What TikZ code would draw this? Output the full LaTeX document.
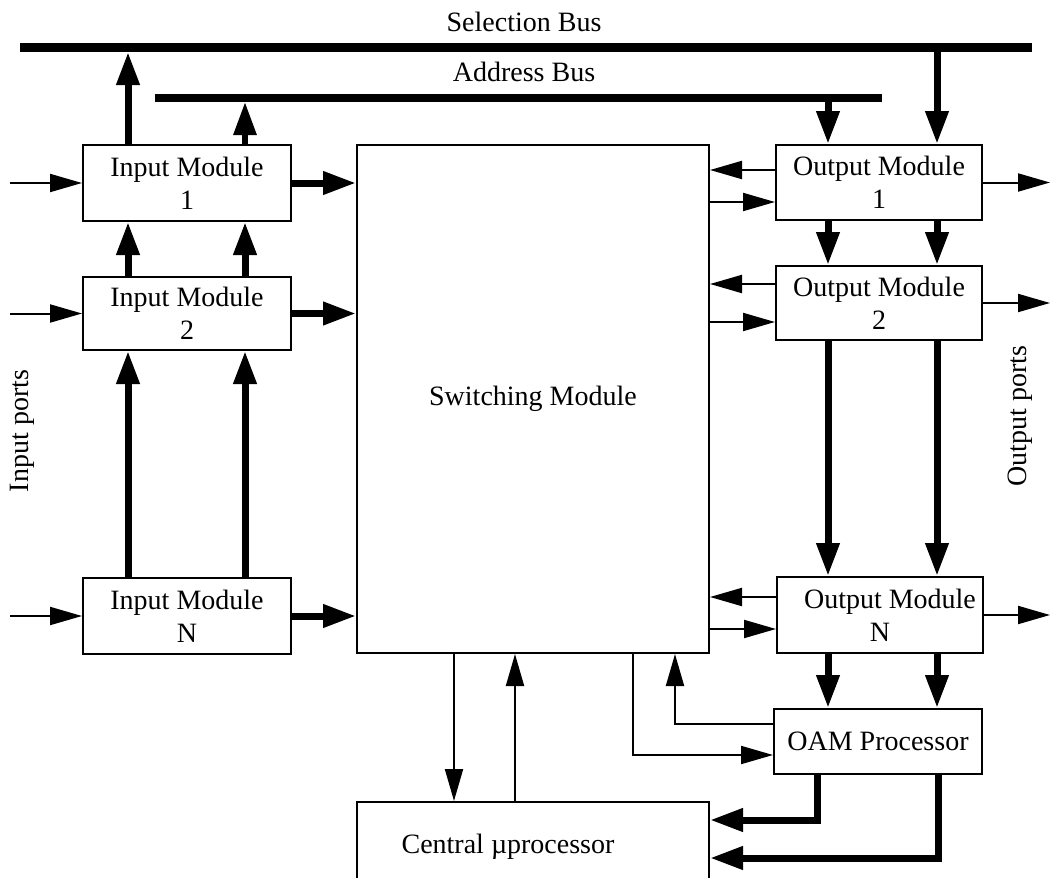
\documentclass[tikz,border=0pt]{standalone}
\usepackage{fontspec}
\setmainfont{Liberation Serif}
\usetikzlibrary{arrows.meta}
\begin{document}
\begin{tikzpicture}[x=0.5pt,y=-0.5pt,
  every node/.style={font=\fontsize{14}{16.5}\selectfont, inner sep=0pt},
  block/.style={draw, line width=1pt, align=center},
  thin arrow/.style={line width=1pt, -{Triangle[length=16pt,width=9pt]}},
  thick arrow/.style={line width=3.5pt, -{Triangle[length=16.5pt,width=11pt]}},
  bus/.style={line width=4.5pt},
]
\useasboundingbox (0,0) rectangle (1051,878);
\clip (0,0) rectangle (1051,878);

% guide coordinates for columns and rows
\coordinate (colA) at (128,0);
\coordinate (colB) at (245,0);
\coordinate (colC) at (828,0);
\coordinate (colD) at (937,0);
\coordinate (inL) at (10,0);
\coordinate (outR) at (1050,0);
\coordinate (r1a) at (0,170);
\coordinate (r1b) at (0,202);
\coordinate (r2a) at (0,284);
\coordinate (r2b) at (0,322);
\coordinate (rNa) at (0,597);
\coordinate (rNb) at (0,629);
\coordinate (cDown) at (454,0);
\coordinate (cUp) at (515,0);
\coordinate (cOut) at (633,0);
\coordinate (cIn) at (675,0);
\coordinate (rOamIn) at (0,724);
\coordinate (rOamOut) at (0,755);
\coordinate (cP1) at (817,0);
\coordinate (cP2) at (938,0);
\coordinate (rP1) at (0,820);
\coordinate (rP2) at (0,858);

% buses
\coordinate (selL) at (20,47.5);
\coordinate (selR) at (1032,47.5);
\coordinate (adrL) at (155,98);
\coordinate (adrR) at (882,98);
\draw[bus] (selL) -- (selR);
\draw[line width=4pt] (adrL) -- (adrR);
\node (selLabel) at (524,22) {Selection Bus};
\node (adrLabel) at (524,72) {Address Bus};

% blocks
\node[block, minimum width=104pt, minimum height=38pt] (im1) at (187,183) {Input Module\\1};
\node[block, minimum width=104pt, minimum height=36.5pt] (im2) at (187,313.5) {Input Module\\2};
\node[block, minimum width=104pt, minimum height=38pt] (imN) at (187,616) {Input Module\\N};
\node[block, minimum width=176pt, minimum height=254pt] (sm) at (533,399) {Switching Module};
\node[block, minimum width=103pt, minimum height=37.5pt] (om1) at (879,182.5) {Output Module\\1};
\node[block, minimum width=103pt, minimum height=37pt] (om2) at (879,303) {Output Module\\2};
\node[block, minimum width=103pt, minimum height=38pt] (omN) at (880,615) {\hspace*{10pt}Output Module\\N};
\node[block, minimum width=104pt, minimum height=32.5pt] (oam) at (878,741.5) {OAM Processor};
\node[block, minimum width=176pt, minimum height=59pt] (cp) at (533,861) {};
\node (cpLabel) at (508,847) {Central µprocessor};

\node[rotate=90] (inPorts) at (22,431) {Input ports};
\node[rotate=90] (outPorts) at (1020,416) {Output ports};

% input side
\draw[thin arrow] (im1.west -| inL) -- (im1.west);
\draw[thin arrow] (im2.west -| inL) -- (im2.west);
\draw[thin arrow] (imN.west -| inL) -- (imN.west);
\draw[thick arrow] (im1.east) -- (im1.east -| sm.west);
\draw[thick arrow] (im2.east) -- (im2.east -| sm.west);
\draw[thick arrow] (imN.east) -- (imN.east -| sm.west);
\draw[thick arrow] (imN.north -| colA) -- (im2.south -| colA);
\draw[thick arrow] (imN.north -| colB) -- (im2.south -| colB);
\draw[thick arrow] (im2.north -| colA) -- (im1.south -| colA);
\draw[thick arrow] (im2.north -| colB) -- (im1.south -| colB);
\draw[thick arrow, shorten >=2.25pt] (im1.north -| colA) -- (selL -| colA);
\draw[thick arrow, shorten >=2pt, line width=3pt] (im1.north -| colB) -- (adrL -| colB);

% output side
\draw[thick arrow] (adrL -| colC) -- (om1.north -| colC);
\draw[thick arrow] (selL -| colD) -- (om1.north -| colD);
\draw[thick arrow] (om1.south -| colC) -- (om2.north -| colC);
\draw[thick arrow] (om1.south -| colD) -- (om2.north -| colD);
\draw[thick arrow] (om2.south -| colC) -- (omN.north -| colC);
\draw[thick arrow] (om2.south -| colD) -- (omN.north -| colD);
\draw[thick arrow] (omN.south -| colC) -- (oam.north -| colC);
\draw[thick arrow] (omN.south -| colD) -- (oam.north -| colD);

\draw[thin arrow] (om1.west |- r1a) -- (sm.east |- r1a);
\draw[thin arrow] (sm.east |- r1b) -- (om1.west |- r1b);
\draw[thin arrow] (om2.west |- r2a) -- (sm.east |- r2a);
\draw[thin arrow] (sm.east |- r2b) -- (om2.west |- r2b);
\draw[thin arrow] (omN.west |- rNa) -- (sm.east |- rNa);
\draw[thin arrow] (sm.east |- rNb) -- (omN.west |- rNb);

\draw[thin arrow] (om1.east) -- (om1.east -| outR);
\draw[thin arrow] (om2.east) -- (om2.east -| outR);
\draw[thin arrow] (omN.east) -- (omN.east -| outR);

% control paths
\draw[thin arrow] (sm.south -| cDown) -- (cp.north -| cDown);
\draw[thin arrow] (cp.north -| cUp) -- (sm.south -| cUp);
\draw[thin arrow] (sm.south -| cOut) |- (oam.west |- rOamOut);
\draw[thin arrow] (oam.west |- rOamIn) -| (sm.south -| cIn);
\draw[thick arrow] (oam.south -| cP1) |- (cp.east |- rP1);
\draw[thick arrow] (oam.south -| cP2) |- (cp.east |- rP2);
\end{tikzpicture}
\end{document}
